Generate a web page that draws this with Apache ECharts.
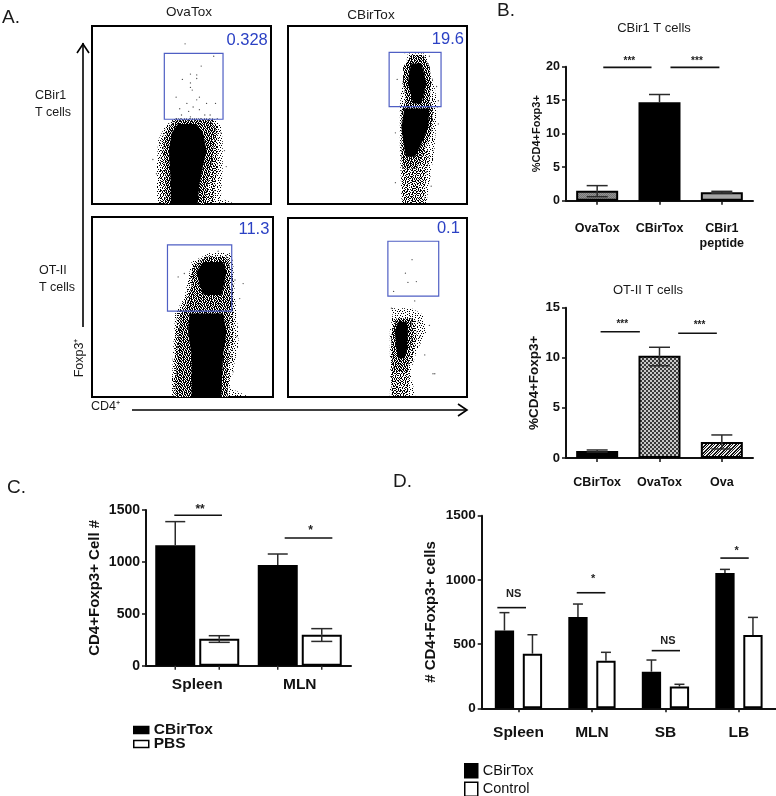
<!DOCTYPE html>
<html><head><meta charset="utf-8">
<script src="https://cdn.jsdelivr.net/npm/echarts@6/dist/echarts.min.js"></script>
<style>html,body{margin:0;padding:0;background:#fff}#c{width:776px;height:796px}</style>
</head><body><div id="c"></div>
<script>
// ---------- Panel A: flow plots. Outlines [y, xLeft, xRight], in % of plot size ----------
const facsTitles = ['OvaTox', 'CBirTox'];
const gateValues = ['0.328', '19.6', '11.3', '0.1'];
const gate1 = [40.4, 73.2, 47.6, 84.6];
const gate2 = [56.5, 85.5, 54.7, 85.2];
const gate3 = [41.7, 77.2, 47.7, 84.5];
const gate4 = [55.8, 84.2, 56.3, 87];

const p1Sparse = [[[48,46,68],[44,41,72],[36,37,73],[20,36,73],[3,36,72],[1,36,78],[0,36,78]]];
const p1Medium = [[[48,47,66],[44,42,70],[36,39,70],[20,38,70],[3,38,68],[0,38,68]]];
const p1Dense = [[[47,47,66],[42,42,69],[32,40,68],[18,41,66],[3,41,63],[0,41,63]]];
const p1Core = [[[45,48,58],[40,44.5,62],[30,43,64],[21,43.5,62],[11,44,60],[0,44,59]]];
const p1Stray = [[52,90],[68,83],[61,77.5],[55,73],[58.5,72.5],[50.5,70],[55,68],[58.5,70.5],[56,64],[55,65.5],[60,60],[47,60],[53,56.5],[58.5,58.5],[64,56.5],[69,56.5],[49,53.5],[54,52],[56.5,54.5],[60,53],[63,50],[50,50],[47,48],[66,50],[70,48],[55,49],[38,34],[36,17],[72,40],[75,21],[34,25],[74,30]];

const p2Sparse = [[[84.6,67,77],[65,63.4,82],[55,62.5,83.5],[30,62.5,81.8],[1,63.4,77.4],[0,63.4,77.4]]];
const p2Medium = [[[30,63.4,79],[15,63.4,77],[0,64,76]]];
const p2Dense = [[[83.7,69,75.5],[77,64.3,79.2],[67.8,64.3,80],[58.4,66,79],[52.8,63.4,81],[39.7,63.4,80],[26.6,63.4,74.5],[20,64,72]]];
const p2Core = [[[79,69,74.5],[74.3,67.7,75.8],[67.8,67,77.3],[60.3,69,75.5],[56.5,70,74.5]],[[53.7,65,79],[43.4,63.4,78.3],[36,64.3,75.5],[30,65.2,72.7],[26.6,66,71]]];
const p2Stray = [[65.2,85],[79,83],[83,66],[61,70],[84,58],[60,40],[84,45],[60,12],[80,10],[81,30]];

const p3Sparse = [[[80,65,76],[75,55,78],[55,51,79],[47,46,80],[30,45,81],[5,44,76],[1,44,85],[0,44,85]]];
const p3Medium = [[[78,62,75],[74,56,77],[55,52,78],[47,47,78],[30,46,78],[5,45,75],[0,45,75]]];
const p3Dense = [[[77.8,63.4,74.3],[73,56.8,76],[62,55,76],[51,52.2,77],[47.3,49.4,76],[32.5,47.6,76],[14,46.7,74.3],[0,45.8,75]]];
const p3Core = [[[75,61.4,72.4],[69.5,57.7,74.3],[62,59.6,72.8],[56.6,61.8,71.5]],[[46.4,54,72.4],[36.2,53,74.3],[23.3,55,72.4],[0.7,55,71.5],[0,55,71.5]]];
const p3Stray = [[47.6,66.7],[51,68.6],[83.5,63],[81.6,54.7],[78,62],[79,65],[77,52],[80,33.5],[78,14],[69.7,81],[74,78.7],[49.4,43.6]];

const p4Sparse = [[[49.6,57.8,69],[46,58.4,75.5],[36.6,56.9,77.3],[25,56.9,71.7],[14,57.2,68.4],[1,56.9,71],[0,56.9,71]]];
const p4Medium = [[[43,59,71],[33,57.5,72],[14,57.5,67.5],[0,58,67]]];
const p4Dense = [[[44,60.6,69],[32.8,57.8,69],[20,58.5,67.5],[14,59,66.5]]];
const p4Core = [[[42,61.5,66.2],[36.6,59.7,67],[27,60.6,66.5],[21.6,61.5,65.2]]];
const p4Stray = [[69.3,76.7],[65.6,69.2],[67,64],[71.7,64.5],[59,59],[70.8,53.7],[57.8,49.6],[79,40],[76.4,23.5],[81,13],[82,13],[73.6,33.8],[72.7,42]];

// ---------- Panel B ----------
const b1Categories = ['OvaTox', 'CBirTox', 'CBir1\npeptide'];
const b1Values = [1.5, 14.7, 1.25];
const b1ErrHigh = [2.25, 15.85, 1.4];
const b1ErrLow = [0.6, null, 1.1];
const b1Sig = [[0.598, 1.372, 19.9], [1.676, 2.461, 19.9]];
const b1SigText = ['***', '***'];

const b2Categories = ['CBirTox', 'OvaTox', 'Ova'];
const b2Values = [0.7, 10.2, 1.6];
const b2ErrHigh = [0.8, 11.05, 2.3];
const b2ErrLow = [0.6, 9.2, 0.9];
const b2Sig = [[0.555, 1.185, 12.6], [1.8, 2.42, 12.45]];
const b2SigText = ['***', '***'];

// ---------- Panel C ----------
const cCategories = ['Spleen', 'MLN'];
const cCBirTox = [1160, 970];
const cPBS = [260, 299];
const cCBirHigh = [1388, 1076];
const cPBSHigh = [289, 357];
const cPBSLow = [225, 234];
const cSig = [[0.276, 0.741, 1449], [1.353, 1.818, 1230]];
const cSigText = ['**', '*'];

// ---------- Panel D ----------
const dCategories = ['Spleen', 'MLN', 'SB', 'LB'];
const dCBirTox = [605, 711, 285, 1054];
const dControl = [425, 371, 169, 571];
const dCBirHigh = [745, 812, 376, 1082];
const dControlHigh = [573, 436, 187, 708];
const dSig = [[0.213, 0.603, 784], [1.293, 1.683, 900], [2.313, 2.698, 449], [3.247, 3.633, 1170]];
const dSigText = ['NS', '*', 'NS', '*'];

// ---------- stipple and hatch tiles ----------
function tile(rows, on, off) {
  const c = document.createElement('canvas');
  c.width = rows[0].length; c.height = rows.length;
  const x = c.getContext('2d');
  x.fillStyle = off; x.fillRect(0, 0, c.width, c.height);
  x.fillStyle = on;
  rows.forEach((r, j) => { for (let i = 0; i < r.length; i++) if (r[i] === '#') x.fillRect(i, j, 1, 1); });
  return { image: c, repeat: 'repeat' };
}
const denseTile = tile([
'#.##.#.###.#..##.#.#','##.#.##.#.###.#.##.#','.#.###.##.#.##.##.#.','#.#.#.##.###.#.#.###','##.##.#.#.#.##.##.#.',
'.##.#.###.##.#.#.#.#','#.#.##.#.##.#.###.##','##.#.#.###.#.##.#.#.','.#.##.##.#.##.#.##.#','#.##.#.#.##.#.##.#.#',
'##.#.##.#.###.#.#.##','.##.#.#.##.#.##.##.#','#.#.###.#.#.##.#.#.#','.##.#.##.##.#.#.###.','#.#.##.#.#.###.#.#.#',
'##.#.#.###.#.##.##.#','.#.##.#.#.##.#.#.##.','#.###.##.#.#.##.#.##','##.#.#.#.###.#.##.#.','.#.##.##.#.##.#.#.##'], '#000', '#fff');
const mediumTile = tile([
'#..#.#...#.##..#.#..','.#...#.##...#.#...#.','#..#...#..#.....#..#','..#..#...#..#.#...#.','#..#...#...#...#.#..',
'.#..#.#..#...#.....#','...#...#...#..#.#...','#.#..#...#.#....#..#','..#.#..#.....#.#..#.','#....#..#.#.#...#...',
'.#.#...#...#..#...#.','#...#.#..#...#..#..#','..#...#...#.#...#...','.#..#...#...#.#..#.#','#..#..#..#.#....#...',
'...#.#...#...#.#..#.','#.#...#.#..#...#....','.#..#...#..#.#...#.#','#...#.#...#...#.#...','..#...#.#...#...#..#'], '#000', 'rgba(255,255,255,0)');
const sparseTile = tile([
'#....#...#..#.....#.','..#.....#....#.#....','.....#.....#.......#','#.#.....#.....#..#..','....#.......#.......',
'.#.....#.#.....#...#','...#.........#...#..','#.....#..#.......#..','..#.#.......#.#.....','.......#..#.......#.',
'#...#.......#..#....','..#....#.#.......#.#','.....#.......#......','.#.#.....#.....#..#.','.......#....#.......',
'#....#...#.....#.#..','..#.......#.#.......','.....#.#.......#...#','.#.......#..#.....#.','....#.#.....#.#.....'], '#000', 'rgba(255,255,255,0)');
const checkTile = tile(['##..','##..','..##','..##'], '#3a3a3a', '#c8c8c8');
const fineTile = tile(['#.','.#'], '#747474', '#949494');
const hatchTile = tile(['#..##.','..##.#','.##.#.','##.#..','#.#..#','.#..##'], '#111', '#eee');

// ---------- layout ----------
const facsGrids = [
  { left: 92, top: 26, width: 179, height: 178 },
  { left: 288, top: 26, width: 179, height: 178 },
  { left: 92, top: 217, width: 181, height: 180 },
  { left: 288, top: 218, width: 179, height: 179 }
];
const barGrids = [
  { left: 566, top: 66.7, width: 187, height: 134 },
  { left: 566, top: 307.7, width: 187, height: 150.3 },
  { left: 146, top: 510, width: 205, height: 155.7 },
  { left: 481.7, top: 515.7, width: 294, height: 192.6 }
];
const grid = facsGrids.map(g => ({ ...g, show: true, borderColor: '#000', borderWidth: 2, backgroundColor: '#fff' }))
  .concat(barGrids.map(g => ({ ...g, show: false })));

const xAxis = [], yAxis = [], series = [];
facsGrids.forEach((g, i) => {
  xAxis.push({ gridIndex: i, type: 'value', min: 0, max: 100, show: false });
  yAxis.push({ gridIndex: i, type: 'value', min: 0, max: 100, show: false });
});

const facsData = [
  { sparse: p1Sparse, medium: p1Medium, dense: p1Dense, core: p1Core, stray: p1Stray, gate: gate1, at: [98.2, 92] },
  { sparse: p2Sparse, medium: p2Medium, dense: p2Dense, core: p2Core, stray: p2Stray, gate: gate2, at: [98.3, 92.6] },
  { sparse: p3Sparse, medium: p3Medium, dense: p3Dense, core: p3Core, stray: p3Stray, gate: gate3, at: [98, 93.3] },
  { sparse: p4Sparse, medium: p4Medium, dense: p4Dense, core: p4Core, stray: p4Stray, gate: gate4, at: [96, 94.4] }
];
facsData.forEach((p, i) => {
  const blobs = [];
  p.sparse.forEach(b => blobs.push({ b, fill: sparseTile }));
  p.medium.forEach(b => blobs.push({ b, fill: mediumTile }));
  p.dense.forEach(b => blobs.push({ b, fill: denseTile }));
  p.core.forEach(b => blobs.push({ b, fill: '#000' }));
  series.push({
    type: 'custom', xAxisIndex: i, yAxisIndex: i, silent: true, z: 2,
    data: blobs.map((_, k) => [k]),
    renderItem(params, api) {
      const item = blobs[params.dataIndex], b = item.b;
      const pts = b.map(r => api.coord([r[1], r[0]])).concat(b.slice().reverse().map(r => api.coord([r[2], r[0]])));
      return { type: 'polygon', shape: { points: pts }, style: { fill: item.fill, stroke: null } };
    }
  });
  series.push({
    type: 'scatter', xAxisIndex: i, yAxisIndex: i, silent: true, z: 3,
    symbolSize: 1.3, itemStyle: { color: '#222' }, data: p.stray
  });
  series.push({
    type: 'custom', xAxisIndex: i, yAxisIndex: i, silent: true, z: 4, clip: false,
    data: [p.gate],
    renderItem(params, api) {
      const g = p.gate;
      const a = api.coord([g[0], g[3]]), c = api.coord([g[1], g[2]]), t = api.coord(p.at);
      return { type: 'group', children: [
        { type: 'rect', shape: { x: a[0], y: a[1], width: c[0] - a[0], height: c[1] - a[1] },
          style: { fill: 'none', stroke: '#4f5fc4', lineWidth: 1.2 } },
        { type: 'text', style: { text: gateValues[i], x: t[0], y: t[1], align: 'right', verticalAlign: 'middle',
          font: '16.5px "Liberation Sans"', fill: '#2b41c4' } }
      ] };
    }
  });
});

// ---------- bar panel helpers ----------
const boldFont = '"Liberation Sans"';
function barAxes(gi, cats, yMax, yStep, opts) {
  xAxis.push({
    gridIndex: gi, type: 'category', data: cats,
    axisLine: { lineStyle: { color: '#111', width: 2 } },
    axisTick: { show: opts.ticks !== false, alignWithLabel: true, length: 4, lineStyle: { color: '#111', width: 1.5 } },
    axisLabel: { color: '#111', fontFamily: boldFont, fontWeight: 'bold', fontSize: opts.catSize, margin: opts.catMargin, lineHeight: 15, interval: 0 }
  });
  xAxis.push({ gridIndex: gi, type: 'value', min: 0, max: cats.length, show: false });
  yAxis.push({
    gridIndex: gi, type: 'value', min: 0, max: yMax, interval: yStep,
    name: opts.yName, nameLocation: 'middle', nameRotate: 90, nameGap: opts.nameGap,
    nameTextStyle: { color: '#111', fontFamily: boldFont, fontWeight: 'bold', fontSize: opts.nameSize },
    axisLine: { show: true, lineStyle: { color: '#111', width: 2 } },
    axisTick: { show: true, length: 4, lineStyle: { color: '#111', width: 1.5 } },
    splitLine: { show: false },
    axisLabel: { color: '#111', fontFamily: boldFont, fontWeight: 'bold', fontSize: opts.tickSize, margin: 6, formatter: v => String(v) }
  });
}
function errSeries(xi, yi, vals, hi, lo, dx, cap, withTick) {
  series.push({
    type: 'custom', xAxisIndex: xi + 1, yAxisIndex: yi, silent: true, z: 5, clip: false,
    data: vals.map((v, k) => [k + 0.5, v]),
    renderItem(params, api) {
      const k = params.dataIndex;
      const ln = (x1, y1, x2, y2, w) => ({ type: 'line', shape: { x1, y1, x2, y2 }, style: { stroke: '#2b2b2b', lineWidth: w || 1.5 } });
      const p0 = api.coord([k + 0.5, vals[k]]), x = p0[0] + dx, kids = [];
      const yh = api.coord([k + 0.5, hi[k]])[1];
      kids.push(ln(x, p0[1], x, yh), ln(x - cap / 2, yh, x + cap / 2, yh));
      if (lo && lo[k] != null) {
        const yl = api.coord([k + 0.5, lo[k]])[1];
        kids.push(ln(x, p0[1], x, yl), ln(x - cap / 2, yl, x + cap / 2, yl));
      }
      if (withTick) {
        const y0 = api.coord([k + 0.5, 0])[1];
        kids.push(ln(x, y0, x, y0 + 4));
      }
      return { type: 'group', children: kids };
    }
  });
}
function sigSeries(xi, yi, sig, texts, gaps, size) {
  series.push({
    type: 'custom', xAxisIndex: xi + 1, yAxisIndex: yi, silent: true, z: 6, clip: false,
    data: sig, encode: { x: [0, 1], y: 2 },
    renderItem(params, api) {
      const s = sig[params.dataIndex];
      const a = api.coord([s[0], s[2]]), b = api.coord([s[1], s[2]]);
      return { type: 'group', children: [
        { type: 'line', shape: { x1: a[0], y1: a[1], x2: b[0], y2: b[1] }, style: { stroke: '#111', lineWidth: 1.6 } },
        { type: 'text', style: { text: texts[params.dataIndex], x: (a[0] + b[0]) / 2 + 2, y: a[1] - gaps[params.dataIndex],
          align: 'center', verticalAlign: 'middle', font: 'bold ' + size + 'px "Liberation Sans"', fill: '#222' } }
      ] };
    }
  });
}
const bb = { borderColor: '#000', borderWidth: 2 };

// B1
barAxes(4, b1Categories, 20, 5, { catSize: 12.5, catMargin: 20, yName: '%CD4+Foxp3+', nameGap: 23, nameSize: 11, tickSize: 12.5 });
series.push({ type: 'bar', xAxisIndex: 4, yAxisIndex: 4, barWidth: 42, silent: true, data: [
  { value: b1Values[0], itemStyle: { color: fineTile, ...bb } },
  { value: b1Values[1], itemStyle: { color: '#000', ...bb } },
  { value: b1Values[2], itemStyle: { color: '#a6a6a6', ...bb } }
] });
errSeries(4, 4, b1Values, b1ErrHigh, b1ErrLow, 0, 21);
sigSeries(4, 4, b1Sig, b1SigText, [6, 6], 10);

// B2
barAxes(5, b2Categories, 15, 5, { catSize: 12.5, catMargin: 17, yName: '%CD4+Foxp3+', nameGap: 22, nameSize: 13.5, tickSize: 13 });
series.push({ type: 'bar', xAxisIndex: 6, yAxisIndex: 5, barWidth: 42, silent: true, data: [
  { value: b2Values[0], itemStyle: { color: '#000', ...bb } },
  { value: b2Values[1], itemStyle: { color: checkTile, ...bb } },
  { value: b2Values[2], itemStyle: { color: hatchTile, ...bb } }
] });
errSeries(6, 5, b2Values, b2ErrHigh, b2ErrLow, 0, 21);
sigSeries(6, 5, b2Sig, b2SigText, [7, 8], 10);

// C
barAxes(6, cCategories, 1500, 500, { catSize: 15.5, catMargin: 12, ticks: false, yName: 'CD4+Foxp3+ Cell #', nameGap: 44, nameSize: 15, tickSize: 14 });
series.push({ name: 'CBirTox', type: 'bar', xAxisIndex: 8, yAxisIndex: 6, barWidth: 40, barGap: '10%', silent: true, itemStyle: { color: '#000', ...bb }, data: cCBirTox });
series.push({ name: 'PBS', type: 'bar', xAxisIndex: 8, yAxisIndex: 6, barWidth: 40, barGap: '10%', silent: true, itemStyle: { color: '#fff', ...bb }, data: cPBS });
errSeries(8, 6, cCBirTox, cCBirHigh, null, -22, 20, true);
errSeries(8, 6, cPBS, cPBSHigh, cPBSLow, 22, 21, true);
sigSeries(8, 6, cSig, cSigText, [6, 7], 12);

// D
barAxes(7, dCategories, 1500, 500, { catSize: 15.5, catMargin: 17, yName: '# CD4+Foxp3+ cells', nameGap: 43, nameSize: 15, tickSize: 13.5 });
series.push({ name: 'CBirTox', type: 'bar', xAxisIndex: 10, yAxisIndex: 7, barWidth: 19.3, barGap: '45%', silent: true, itemStyle: { color: '#000', ...bb }, data: dCBirTox });
series.push({ name: 'Control', type: 'bar', xAxisIndex: 10, yAxisIndex: 7, barWidth: 19.3, barGap: '45%', silent: true, itemStyle: { color: '#fff', ...bb }, data: dControl });
errSeries(10, 7, dCBirTox, dCBirHigh, null, -14, 10);
errSeries(10, 7, dControl, dControlHigh, null, 14, 10);
sigSeries(10, 7, dSig, dSigText, [14, 14, 10, 7], 11);

// ---------- free text and arrows ----------
const txt = (text, x, y, size, extra) => ({ type: 'text', x, y, rotation: (extra && extra.rot) || 0, silent: true, z: 20,
  style: { text, x: 0, y: 0, font: ((extra && extra.bold) ? 'bold ' : '') + size + 'px "Liberation Sans"', fill: '#1a1a1a',
    textAlign: (extra && extra.align) || 'left', textVerticalAlign: 'middle' } });
const graphic = [
  txt('A.', 2, 18, 19), txt('B.', 497, 11, 19), txt('C.', 7, 488, 19), txt('D.', 393, 482, 19),
  txt(facsTitles[0], 189, 12, 13.5, { align: 'center' }), txt(facsTitles[1], 371, 15, 13.5, { align: 'center' }),
  txt('CBir1', 35, 96, 12.5), txt('T cells', 35, 113, 12.5),
  txt('OT-II', 39, 271, 12.5), txt('T cells', 39, 288, 12.5),
  txt('Foxp3⁺', 80, 358, 12.5, { rot: Math.PI / 2, align: 'center' }),
  txt('CD4⁺', 91, 407, 12.5),
  txt('CBir1 T cells', 654, 28, 13, { align: 'center' }),
  txt('OT-II T cells', 648, 290, 13, { align: 'center' }),
  { type: 'polyline', silent: true, z: 20, shape: { points: [[83, 43], [83, 327]] }, style: { stroke: '#000', lineWidth: 1.6, fill: 'none' } },
  { type: 'polyline', silent: true, z: 20, shape: { points: [[77, 53], [83, 44], [89, 53]] }, style: { stroke: '#000', lineWidth: 1.6, fill: 'none' } },
  { type: 'polyline', silent: true, z: 20, shape: { points: [[132, 410], [467, 410]] }, style: { stroke: '#000', lineWidth: 1.6, fill: 'none' } },
  { type: 'polyline', silent: true, z: 20, shape: { points: [[458, 404], [467, 410], [458, 416]] }, style: { stroke: '#000', lineWidth: 1.6, fill: 'none' } }
];

const legend = [
  { data: ['CBirTox', 'PBS'], left: 133, top: 722, padding: 0, height: 60, orient: 'vertical', itemWidth: 15, itemHeight: 7, itemGap: -2, selectedMode: false, icon: 'rect',
    itemStyle: { borderWidth: 1.5, borderColor: '#000' },
    textStyle: { color: '#111', fontFamily: boldFont, fontWeight: 'bold', fontSize: 15.5, lineHeight: 16 } },
  { data: ['CBirTox', 'Control'], left: 464, top: 763, padding: 0, height: 60, orient: 'vertical', itemWidth: 13, itemHeight: 14, itemGap: 3, selectedMode: false, icon: 'rect',
    itemStyle: { borderWidth: 1.5, borderColor: '#000' },
    textStyle: { color: '#111', fontFamily: boldFont, fontSize: 14.5, lineHeight: 14 } }
];

const chart = echarts.init(document.getElementById('c'));
chart.setOption({ animation: false, backgroundColor: '#fff', textStyle: { fontFamily: boldFont }, grid, xAxis, yAxis, series, graphic, legend, tooltip: { show: false } });
</script></body></html>
